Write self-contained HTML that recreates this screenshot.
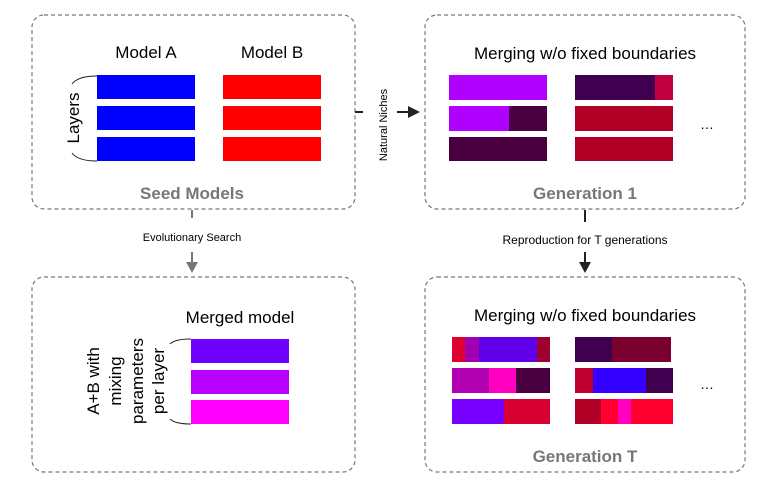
<!DOCTYPE html>
<html><head><style>body{margin:0;background:#fff}</style></head><body>
<svg width="780" height="481" viewBox="0 0 780 481" xmlns="http://www.w3.org/2000/svg" font-family="Liberation Sans, Arial, sans-serif">
<g fill="none" stroke="#777" stroke-width="1.2" stroke-dasharray="4,3">
<rect x="32" y="15" width="323" height="194" rx="12"/>
<rect x="425" y="15" width="320" height="194" rx="12"/>
<rect x="32" y="277" width="323" height="195" rx="12"/>
<rect x="425" y="277" width="320" height="195" rx="12"/>
</g>
<text x="146" y="58" font-size="17" text-anchor="middle">Model A</text>
<text x="272" y="58" font-size="17" text-anchor="middle">Model B</text>
<g fill="#0000ff"><rect x="97" y="75" width="98" height="24"/><rect x="97" y="106" width="98" height="24"/><rect x="97" y="137" width="98" height="24"/></g>
<g fill="#ff0000"><rect x="223" y="75" width="98" height="24"/><rect x="223" y="106" width="98" height="24"/><rect x="223" y="137" width="98" height="24"/></g>
<path d="M97 76 Q78 76 72 84 M97 161 Q78 161 72 153" stroke="#222" fill="none" stroke-width="1"/>
<text transform="translate(79 118) rotate(-90)" font-size="17" text-anchor="middle">Layers</text>
<text x="192" y="199" font-size="17" font-weight="bold" fill="#777" text-anchor="middle">Seed Models</text>
<line x1="192" y1="210" x2="192" y2="218" stroke="#777" stroke-width="2"/>
<text x="192" y="241" font-size="11" text-anchor="middle">Evolutionary Search</text>
<line x1="192" y1="252" x2="192" y2="264" stroke="#777" stroke-width="2"/>
<polygon points="186,262 198,262 192,273" fill="#777"/>
<line x1="355" y1="112" x2="363" y2="112" stroke="#222" stroke-width="2"/>
<text transform="translate(387 125) rotate(-90)" font-size="11" text-anchor="middle">Natural Niches</text>
<line x1="397" y1="112" x2="410" y2="112" stroke="#222" stroke-width="2"/>
<polygon points="408,106 408,118 420,112" fill="#222"/>
<line x1="585" y1="210" x2="585" y2="222" stroke="#222" stroke-width="2"/>
<text x="585" y="244" font-size="12" text-anchor="middle">Reproduction for T generations</text>
<line x1="585" y1="252" x2="585" y2="264" stroke="#222" stroke-width="2"/>
<polygon points="579,262 591,262 585,273" fill="#222"/>
<text x="585" y="59" font-size="17" text-anchor="middle">Merging w/o fixed boundaries</text>
<rect x="449" y="75" width="98" height="25" fill="#b000ff"/>
<rect x="449" y="106" width="60" height="25" fill="#b000ff"/><rect x="509" y="106" width="38" height="25" fill="#4a0040"/>
<rect x="449" y="137" width="98" height="24" fill="#4a0040"/>
<rect x="575" y="75" width="80" height="25" fill="#400050"/><rect x="655" y="75" width="18" height="25" fill="#c00040"/>
<rect x="575" y="106" width="98" height="25" fill="#b00025"/>
<rect x="575" y="137" width="98" height="24" fill="#b00025"/>
<text x="707" y="129" font-size="14" text-anchor="middle">…</text>
<text x="585" y="199" font-size="17" font-weight="bold" fill="#777" text-anchor="middle">Generation 1</text>
<text x="240" y="323" font-size="17" text-anchor="middle">Merged model</text>
<rect x="191" y="339" width="98" height="24" fill="#7000ff"/>
<rect x="191" y="370" width="98" height="24" fill="#b800ff"/>
<rect x="191" y="400" width="98" height="24" fill="#ff00ff"/>
<path d="M191 339 Q175 339 170 344 M191 424 Q175 424 170 419" stroke="#222" fill="none" stroke-width="1"/>
<g font-size="17" text-anchor="middle">
<text transform="translate(99 381) rotate(-90)">A+B with</text>
<text transform="translate(121 381) rotate(-90)">mixing</text>
<text transform="translate(143 381) rotate(-90)">parameters</text>
<text transform="translate(164 381) rotate(-90)">per layer</text>
</g>
<text x="585" y="321" font-size="17" text-anchor="middle">Merging w/o fixed boundaries</text>
<rect x="452" y="337" width="13" height="25" fill="#e00030"/><rect x="465" y="337" width="14" height="25" fill="#a000b0"/><rect x="479" y="337" width="58" height="25" fill="#6000e8"/><rect x="537" y="337" width="13" height="25" fill="#a00030"/>
<rect x="452" y="368" width="37" height="25" fill="#b000b0"/><rect x="489" y="368" width="27" height="25" fill="#ff00c0"/><rect x="516" y="368" width="34" height="25" fill="#4a0040"/>
<rect x="452" y="399" width="52" height="25" fill="#7800ff"/><rect x="504" y="399" width="46" height="25" fill="#d80030"/>
<rect x="575" y="337" width="37" height="25" fill="#400050"/><rect x="612" y="337" width="59" height="25" fill="#7a0030"/>
<rect x="575" y="368" width="18" height="25" fill="#c00030"/><rect x="593" y="368" width="53" height="25" fill="#3300ff"/><rect x="646" y="368" width="27" height="25" fill="#400050"/>
<rect x="575" y="399" width="26" height="25" fill="#b00025"/><rect x="601" y="399" width="17" height="25" fill="#ff0030"/><rect x="618" y="399" width="13" height="25" fill="#ff00c0"/><rect x="631" y="399" width="42" height="25" fill="#ff0030"/>
<text x="707" y="389" font-size="14" text-anchor="middle">…</text>
<text x="585" y="462" font-size="17" font-weight="bold" fill="#777" text-anchor="middle">Generation T</text>
</svg>
</body></html>
